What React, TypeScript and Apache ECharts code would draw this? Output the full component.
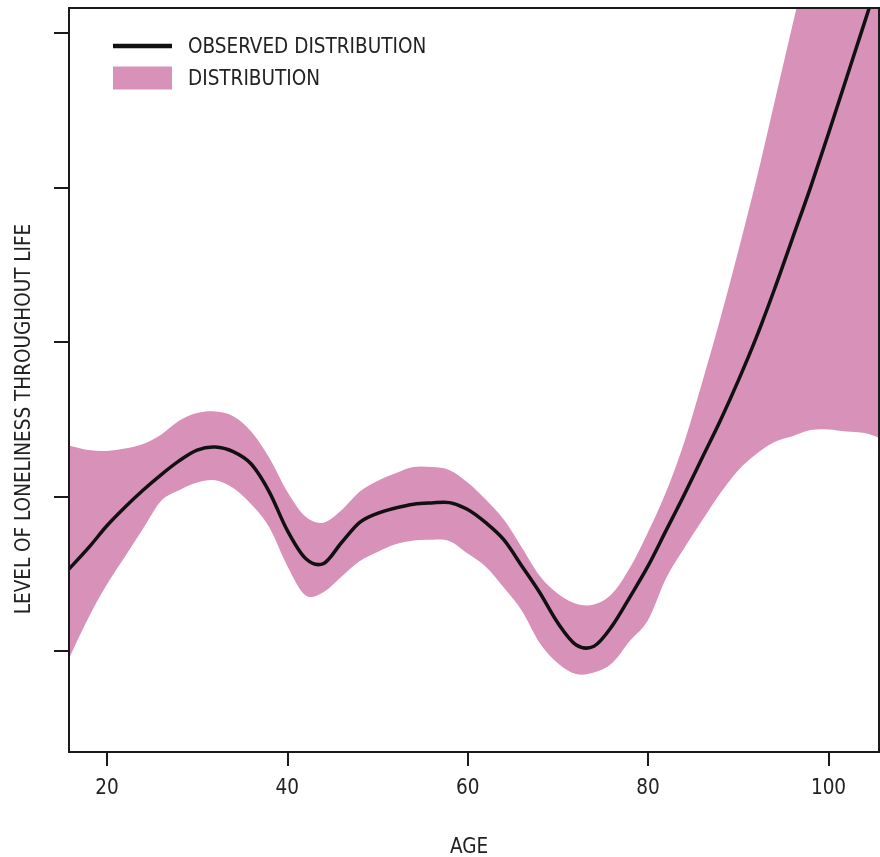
import React, { useEffect, useRef } from "react";
import * as echarts from "echarts";

// Age (x) samples shared by all curves
const ages = [15.8, 18, 20, 22, 24, 26, 28, 30, 32, 34, 36, 38, 40, 42, 44, 46, 48, 50, 52, 54, 56, 58, 60, 62, 64, 66, 68, 70, 72, 74, 76, 78, 80, 82, 84, 86, 88, 90, 92, 94, 96, 98, 100, 102, 104, 105.6];
// Observed distribution (black line)
const observed = [1.53, 1.67, 1.81, 1.93, 2.04, 2.14, 2.23, 2.30, 2.32, 2.29, 2.21, 2.03, 1.78, 1.60, 1.565, 1.70, 1.83, 1.89, 1.925, 1.95, 1.958, 1.96, 1.915, 1.83, 1.72, 1.55, 1.376, 1.18, 1.04, 1.03, 1.16, 1.35, 1.55, 1.78, 2.01, 2.25, 2.49, 2.75, 3.03, 3.34, 3.67, 4.00, 4.35, 4.71, 5.07, 5.36];
// Distribution band (lower / upper edges)
const lower = [0.95, 1.22, 1.43, 1.61, 1.79, 1.97, 2.04, 2.09, 2.105, 2.055, 1.95, 1.80, 1.55, 1.36, 1.38, 1.48, 1.58, 1.64, 1.69, 1.715, 1.72, 1.71, 1.63, 1.545, 1.41, 1.26, 1.05, 0.92, 0.85, 0.86, 0.92, 1.065, 1.2, 1.47, 1.665, 1.845, 2.02, 2.17, 2.275, 2.352, 2.39, 2.43, 2.434, 2.42, 2.41, 2.38];
const upper = [2.33, 2.30, 2.295, 2.31, 2.34, 2.40, 2.49, 2.54, 2.55, 2.52, 2.42, 2.25, 2.03, 1.87, 1.83, 1.91, 2.03, 2.10, 2.15, 2.19, 2.19, 2.17, 2.09, 1.98, 1.85, 1.67, 1.485, 1.37, 1.305, 1.30, 1.37, 1.54, 1.77, 2.03, 2.35, 2.74, 3.15, 3.59, 4.05, 4.55, 5.05, 5.55, 6.05, 6.55, 7.05, 7.45];

const xTicks = [20, 40, 60, 80, 100];
const yTicks = [1, 2, 3, 4, 5];

const FONT = "'Liberation Sans Narrow', 'DejaVu Sans Condensed', Roboto, sans-serif";
const INK = "#1a1a1a";
const PINK = "#d891b9";

// Catmull-Rom spline through pixel points (rendering only, no new data)
function spline(pts: number[][], start: "M" | "L"): string {
  let d = `${start}${pts[0][0]},${pts[0][1]}`;
  for (let i = 0; i < pts.length - 1; i++) {
    const p0 = pts[i - 1] || pts[i];
    const p1 = pts[i];
    const p2 = pts[i + 1];
    const p3 = pts[i + 2] || p2;
    const c1x = p1[0] + (p2[0] - p0[0]) / 6;
    const c1y = p1[1] + (p2[1] - p0[1]) / 6;
    const c2x = p2[0] - (p3[0] - p1[0]) / 6;
    const c2y = p2[1] - (p3[1] - p1[1]) / 6;
    d += ` C${c1x},${c1y} ${c2x},${c2y} ${p2[0]},${p2[1]}`;
  }
  return d;
}

export default function App() {
  const ref = useRef<HTMLDivElement>(null);
  useEffect(() => {
    const chart = echarts.init(ref.current!, null, { renderer: "svg" });
    chart.setOption({
      animation: false,
      grid: {
        left: 69,
        right: 1,
        top: 8,
        bottom: 105,
        show: true,
        z: 5,
        borderColor: INK,
        borderWidth: 2,
        containLabel: false,
        outerBoundsMode: "none",
      },
      legend: {
        left: 113,
        top: 34.5,
        padding: 0,
        orient: "vertical",
        itemWidth: 59,
        itemHeight: 23,
        itemGap: 9,
        selectedMode: false,
        textStyle: { fontSize: 20.5, color: "#222", fontFamily: FONT, padding: [0, 0, 0, 11] },
        data: [
          {
            name: "OBSERVED DISTRIBUTION",
            icon: "path://M0,0M0,9.2H59V13.8H0ZM59,23",
            itemStyle: { color: "#111" },
          },
          { name: "DISTRIBUTION", icon: "rect", itemStyle: { color: PINK } },
        ],
      },
      xAxis: {
        type: "value",
        min: 15.8,
        max: 105.6,
        z: 5,
        axisLine: { show: true, lineStyle: { color: INK, width: 2 } },
        axisTick: { show: true, length: 14, lineStyle: { color: INK, width: 2 }, customValues: xTicks },
        axisLabel: { customValues: xTicks, fontSize: 20.5, color: "#222", margin: 24, fontFamily: FONT },
        splitLine: { show: false },
      },
      yAxis: {
        type: "value",
        min: 0.345,
        max: 5.163,
        z: 5,
        axisLine: { show: true, lineStyle: { color: INK, width: 2 } },
        axisTick: { show: true, length: 15, lineStyle: { color: INK, width: 2 }, customValues: yTicks },
        axisLabel: { show: false, customValues: yTicks },
        splitLine: { show: false },
      },
      graphic: [
        {
          type: "text",
          x: 22.7,
          y: 419,
          rotation: Math.PI / 2,
          style: {
            text: "LEVEL OF LONELINESS THROUGHOUT LIFE",
            fontSize: 20.5,
            fill: "#222",
            fontFamily: FONT,
            align: "center",
            verticalAlign: "middle",
          },
        },
        {
          type: "text",
          x: 469,
          y: 846,
          style: {
            text: "AGE",
            fontSize: 20.5,
            fill: "#222",
            fontFamily: FONT,
            align: "center",
            verticalAlign: "middle",
          },
        },
      ],
      series: [
        {
          name: "DISTRIBUTION",
          type: "custom",
          clip: true,
          itemStyle: { color: PINK },
          data: ages.map((a, i) => [a, lower[i], upper[i]]),
          encode: { x: 0, y: [1, 2] },
          renderItem: (params: any, api: any) => {
            if (params.dataIndex !== 0) return null;
            const up = ages.map((a, i) => api.coord([a, upper[i]]));
            const lo = ages.map((a, i) => api.coord([a, lower[i]])).reverse();
            const d = spline(up, "M") + " " + spline(lo, "L") + " Z";
            return {
              type: "path",
              shape: { pathData: d },
              style: { fill: PINK, stroke: null },
            };
          },
          z: 1,
        },
        {
          name: "OBSERVED DISTRIBUTION",
          type: "custom",
          clip: true,
          itemStyle: { color: "#111" },
          data: ages.map((a, i) => [a, observed[i]]),
          encode: { x: 0, y: 1 },
          renderItem: (params: any, api: any) => {
            if (params.dataIndex !== 0) return null;
            const pts = ages.map((a, i) => api.coord([a, observed[i]]));
            return {
              type: "path",
              shape: { pathData: spline(pts, "M") },
              style: { fill: null, stroke: "#111", lineWidth: 3.5, lineJoin: "round" },
            };
          },
          z: 3,
        },
      ],
    });
    return () => chart.dispose();
  }, []);
  return <div ref={ref} style={{ position: "fixed", left: 0, top: 0, width: 880, height: 857 }} />;
}
